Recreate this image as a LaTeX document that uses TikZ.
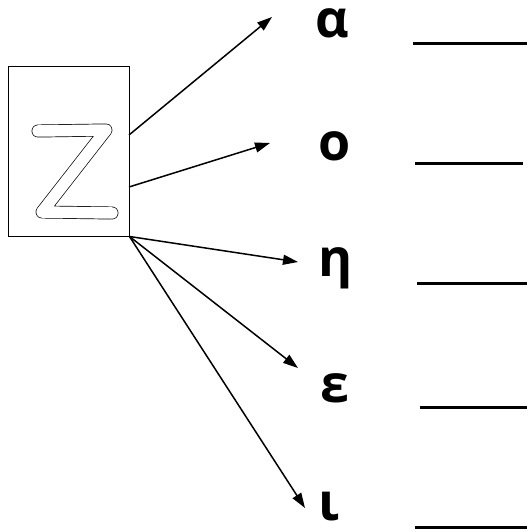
\documentclass[tikz,border=0pt]{standalone}
\usepackage{fontspec}
\setmainfont{Open Sans}
\usetikzlibrary{arrows.meta}
\begin{document}
\begin{tikzpicture}[x=1pt,y=-1pt,
        every node/.style={font=\fontsize{52}{56}\selectfont\bfseries, inner sep=0pt, anchor=base},
        pic/.style={draw, line width=1pt, minimum width=121pt, minimum height=169pt, anchor=center},
        arr/.style={line width=1.5pt, -{Triangle[length=15pt,width=10pt]}},
        blank/.style={line width=3pt}]
        \useasboundingbox (0,0) rectangle (527,532);

        \node[pic] (Z) at (68.5,151.5) {};
        % hollow letter
        \draw[double=white, double distance=11.5pt, line width=0.7pt, line cap=round, line join=round]
        (38,131) -- (106,130) -- (42,212) -- (112,213);

        \node (alpha) at (332,38) {α};
        \node (omicron) at (335,160) {ο};
        \node (eta) at (336,276) {η};
        \node (epsilon) at (335,402) {ε};
        \node (iota) at (329,520) {ι};

        \coordinate (Za) at (129,135);
        \coordinate (Zo) at (129,187);
        \coordinate (ta) at (272,17);
        \coordinate (to) at (270,143);
        \coordinate (th) at (298,262);
        \coordinate (te) at (298,368);
        \coordinate (ti) at (305,508);

        \draw[arr] (Za) -- (ta);
        \draw[arr] (Zo) -- (to);
        \draw[arr] (Z.south east) -- (th);
        \draw[arr] (Z.south east) -- (te);
        \draw[arr] (Z.south east) -- (ti);

        \draw[blank] (413,44) -- (527,44);
        \draw[blank] (415,163) -- (523,163);
        \draw[blank] (417,283) -- (527,283);
        \draw[blank] (420,407) -- (527,407);
        \draw[blank] (415,527) -- (527,527);

      \end{tikzpicture}
\end{document}
